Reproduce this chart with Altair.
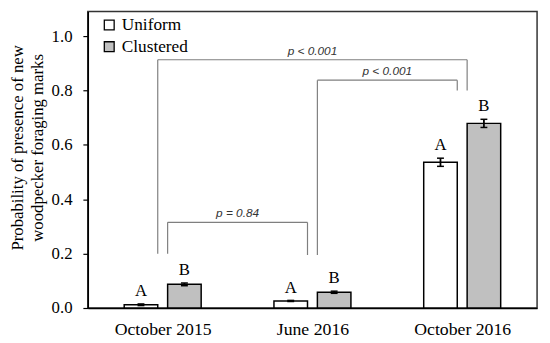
import altair as alt
import pandas as pd

# ---- data ----
periods = ["October 2015", "June 2016", "October 2016"]
types = ["Uniform", "Clustered"]
uniform_mean = [0.012, 0.026, 0.536]
clustered_mean = [0.087, 0.058, 0.679]
uniform_se = [0.003, 0.002, 0.015]
clustered_se = [0.005, 0.004, 0.015]
uniform_letter = ["A", "A", "A"]
clustered_letter = ["B", "B", "B"]

# pairwise comparisons (brackets)
cmp_from_period = ["October 2015", "June 2016", "October 2015"]
cmp_from_type = ["Uniform", "Clustered", "Clustered"]
cmp_to_period = ["October 2016", "October 2016", "June 2016"]
cmp_to_type = ["Clustered", "Uniform", "Uniform"]
cmp_level = [0.913, 0.838, 0.315]
cmp_from_bottom = [0.200, 0.195, 0.200]
cmp_to_bottom = [0.800, 0.800, 0.195]
cmp_label = ["p < 0.001", "p < 0.001", "p = 0.84"]

# ---- geometry (in category units, one unit per period) ----
BAR_W = 0.224
GAP = 0.066
CAP = 0.023
FONT = "Liberation Serif, Times New Roman, serif"


def center(period):
    return periods.index(period) + 0.5


def inner_edge(period, typ):
    c = center(period)
    return c - GAP / 2 if typ == "Uniform" else c + GAP / 2


rows = []
for i, p in enumerate(periods):
    for t, m, s, l in [("Uniform", uniform_mean[i], uniform_se[i], uniform_letter[i]),
                       ("Clustered", clustered_mean[i], clustered_se[i], clustered_letter[i])]:
        e = inner_edge(p, t)
        x0, x1 = (e - BAR_W, e) if t == "Uniform" else (e, e + BAR_W)
        xc = (x0 + x1) / 2
        rows.append(dict(period=p, type=t, mean=m, lo=m - s, hi=m + s, letter=l,
                         x0=x0, x1=x1, xc=xc, c0=xc - CAP, c1=xc + CAP))
bars = pd.DataFrame(rows)

segs = []
labels = []
for k in range(len(cmp_label)):
    xa = inner_edge(cmp_from_period[k], cmp_from_type[k])
    xb = inner_edge(cmp_to_period[k], cmp_to_type[k])
    lv = cmp_level[k]
    segs.append(dict(x=xa, x2=xb, y=lv, y2=lv))
    segs.append(dict(x=xa, x2=xa, y=cmp_from_bottom[k], y2=lv))
    segs.append(dict(x=xb, x2=xb, y=cmp_to_bottom[k], y2=lv))
    labels.append(dict(x=(xa + xb) / 2, y=lv, label=cmp_label[k]))
segs = pd.DataFrame(segs)
labels = pd.DataFrame(labels)

label_expr = "[" + ",".join("'%s'" % p for p in periods) + "][floor(datum.value)]"

xscale = alt.Scale(domain=[0, len(periods)], nice=False, zero=False)
yscale = alt.Scale(domain=[0, 1.0906], nice=False)

xaxis = alt.Axis(values=[i + 0.5 for i in range(len(periods))], labelExpr=label_expr,
                 title=None, ticks=False, labelPadding=13, labelFontSize=18,
                 labelFont=FONT)
yaxis = alt.Axis(values=[0, 0.2, 0.4, 0.6, 0.8, 1.0], format=".1f",
                 tickSize=5, labelPadding=11, labelFontSize=17, labelFont=FONT,
                 title=["Probability of presence of new", "woodpecker foraging marks"],
                 titleFont=FONT, titlePadding=5, titleY=138)

base_bars = alt.Chart(bars)

bar_layer = base_bars.mark_bar(stroke="black", strokeWidth=1.5).encode(
    x=alt.X("x0:Q", scale=xscale, axis=xaxis),
    x2="x1:Q",
    y=alt.Y("mean:Q", scale=yscale, axis=yaxis),
    y2=alt.datum(0),
    fill=alt.Fill("type:N", scale=alt.Scale(domain=types, range=["#ffffff", "#c0c0c0"]),
                  legend=alt.Legend(title=None, orient="none", legendX=13, legendY=5,
                                    labelFont=FONT)),
)

err_layer = base_bars.mark_rule(color="black", strokeWidth=1.8).encode(
    x="xc:Q", y="lo:Q", y2="hi:Q")
cap_hi = base_bars.mark_rule(color="black", strokeWidth=1.5).encode(
    x="c0:Q", x2="c1:Q", y="hi:Q")
cap_lo = base_bars.mark_rule(color="black", strokeWidth=1.5).encode(
    x="c0:Q", x2="c1:Q", y="lo:Q")

letter_layer = base_bars.mark_text(font=FONT, fontSize=17, color="black",
                                   baseline="alphabetic", dy=-8).encode(
    x="xc:Q", y="hi:Q", text="letter:N")

seg_layer = alt.Chart(segs).mark_rule(color="#7f7f7f", strokeWidth=1.2).encode(
    x="x:Q", x2="x2:Q", y="y:Q", y2="y2:Q")

lab_layer = alt.Chart(labels).mark_text(font="Liberation Sans", fontStyle="italic",
                                        fontSize=12, color="#333333",
                                        baseline="alphabetic", dy=-5).encode(
    x="x:Q", y="y:Q", text="label:N")

chart = alt.layer(bar_layer, seg_layer, lab_layer, err_layer, cap_hi, cap_lo,
                  letter_layer).properties(
    width=456, height=301,
    autosize=alt.AutoSizeParams(type="none"),
    padding={"left": 81, "top": 1, "right": 5, "bottom": 33},
).configure(
    font=FONT
).configure_view(
    stroke="#333333", strokeWidth=1.5
).configure_axis(
    grid=False, labelFont=FONT, labelColor="black",
    domainColor="black", domainWidth=1.5, tickColor="black", tickWidth=1.2,
    titleFont=FONT, titleFontSize=17, titleFontWeight="normal", titleColor="black",
    titleLineHeight=20
).configure_legend(
    symbolType="square", symbolSize=100, symbolStrokeColor="black",
    symbolStrokeWidth=1.3, symbolOpacity=1, labelFont=FONT, labelFontSize=17.5,
    labelColor="black", rowPadding=3, labelOffset=4, padding=0
)

chart.save("out.html", embed_options={"renderer": "svg", "actions": False})
